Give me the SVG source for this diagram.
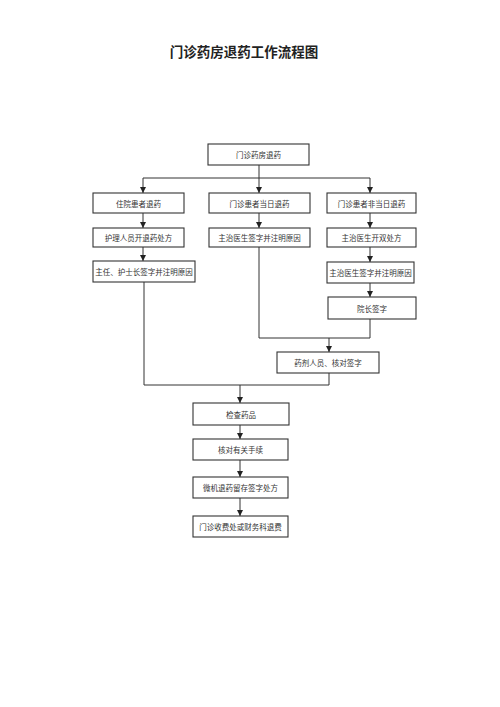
<svg xmlns="http://www.w3.org/2000/svg" width="500" height="707" viewBox="0 0 500 707">
<defs>
<marker id="ah" viewBox="0 0 6 6" refX="6" refY="3" markerWidth="6" markerHeight="6" markerUnits="userSpaceOnUse" orient="auto">
<path d="M0,0 L6,3 L0,6 z" fill="#222"/>
</marker>
</defs>
<style>
.box{fill:#fff;stroke:#333;stroke-width:1.1}
.t{font-family:"Noto Sans CJK SC","Noto Sans",sans-serif;font-size:7.5px;fill:#333;text-anchor:middle;dominant-baseline:central}
.title{font-family:"Noto Sans CJK SC","Noto Sans",sans-serif;font-size:13.5px;font-weight:bold;fill:#222;text-anchor:middle}
.c{fill:none;stroke:#333;stroke-width:1}
.a{fill:none;stroke:#333;stroke-width:1;marker-end:url(#ah)}
</style>
<rect width="500" height="707" fill="#fff"/>
<text class="title" x="244" y="57">门诊药房退药工作流程图</text>
<g id="connectors">
<line class="c" x1="259" y1="165" x2="259" y2="178"/>
<line class="c" x1="143" y1="178" x2="370" y2="178"/>
<line class="a" x1="143" y1="178" x2="143" y2="193"/>
<line class="a" x1="259" y1="178" x2="259" y2="193"/>
<line class="a" x1="370" y1="178" x2="370" y2="193"/>
<line class="a" x1="143" y1="213" x2="143" y2="228"/>
<line class="a" x1="259" y1="213" x2="259" y2="228"/>
<line class="a" x1="370" y1="213" x2="370" y2="228"/>
<line class="a" x1="143" y1="247" x2="143" y2="261"/>
<line class="a" x1="370" y1="247" x2="370" y2="262"/>
<line class="a" x1="370" y1="283" x2="370" y2="297"/>
<polyline class="c" points="259,247 259,338 370,338 370,319"/>
<line class="a" x1="329" y1="338" x2="329" y2="352"/>
<polyline class="c" points="144,282 144,385 329,385 329,373"/>
<line class="a" x1="240" y1="385" x2="240" y2="403"/>
<line class="a" x1="240" y1="425" x2="240" y2="439"/>
<line class="a" x1="240" y1="460" x2="240" y2="477"/>
<line class="a" x1="240" y1="498" x2="240" y2="516"/>
</g>
<g id="n-top"><rect class="box" x="208" y="144" width="101" height="21"/><text class="t" x="258.5" y="154.5">门诊药房退药</text></g>
<g id="n-inpatient"><rect class="box" x="93" y="193" width="91" height="20"/><text class="t" x="138.5" y="203">住院患者退药</text></g>
<g id="n-sameday"><rect class="box" x="209" y="193" width="101" height="20"/><text class="t" x="259.5" y="203">门诊患者当日退药</text></g>
<g id="n-notsameday"><rect class="box" x="327" y="193" width="89" height="20"/><text class="t" x="371.5" y="203">门诊患者非当日退药</text></g>
<g id="n-nurse"><rect class="box" x="93" y="228" width="91" height="19"/><text class="t" x="138.5" y="237.5">护理人员开退药处方</text></g>
<g id="n-doc1"><rect class="box" x="209" y="228" width="101" height="19"/><text class="t" x="259.5" y="237.5">主治医生签字并注明原因</text></g>
<g id="n-doc2"><rect class="box" x="327" y="228" width="89" height="19"/><text class="t" x="371.5" y="237.5">主治医生开双处方</text></g>
<g id="n-head"><rect class="box" x="93" y="261" width="102" height="21"/><text class="t" x="144" y="271.5">主任、护士长签字并注明原因</text></g>
<g id="n-doc3"><rect class="box" x="327" y="262" width="87" height="21"/><text class="t" x="370.5" y="272.5">主治医生签字并注明原因</text></g>
<g id="n-dean"><rect class="box" x="328" y="297" width="88" height="22"/><text class="t" x="372" y="308">院长签字</text></g>
<g id="n-pharm"><rect class="box" x="277" y="352" width="102" height="21"/><text class="t" x="328" y="362.5">药剂人员、核对签字</text></g>
<g id="n-check"><rect class="box" x="193" y="403" width="96" height="22"/><text class="t" x="241" y="414">检查药品</text></g>
<g id="n-verify"><rect class="box" x="193" y="439" width="95" height="21"/><text class="t" x="240.5" y="449.5">核对有关手续</text></g>
<g id="n-computer"><rect class="box" x="193" y="477" width="95" height="21"/><text class="t" x="240.5" y="487.5">微机退药留存签字处方</text></g>
<g id="n-refund"><rect class="box" x="193" y="516" width="95" height="21"/><text class="t" x="240.5" y="526.5">门诊收费处或财务科退费</text></g>
</svg>
